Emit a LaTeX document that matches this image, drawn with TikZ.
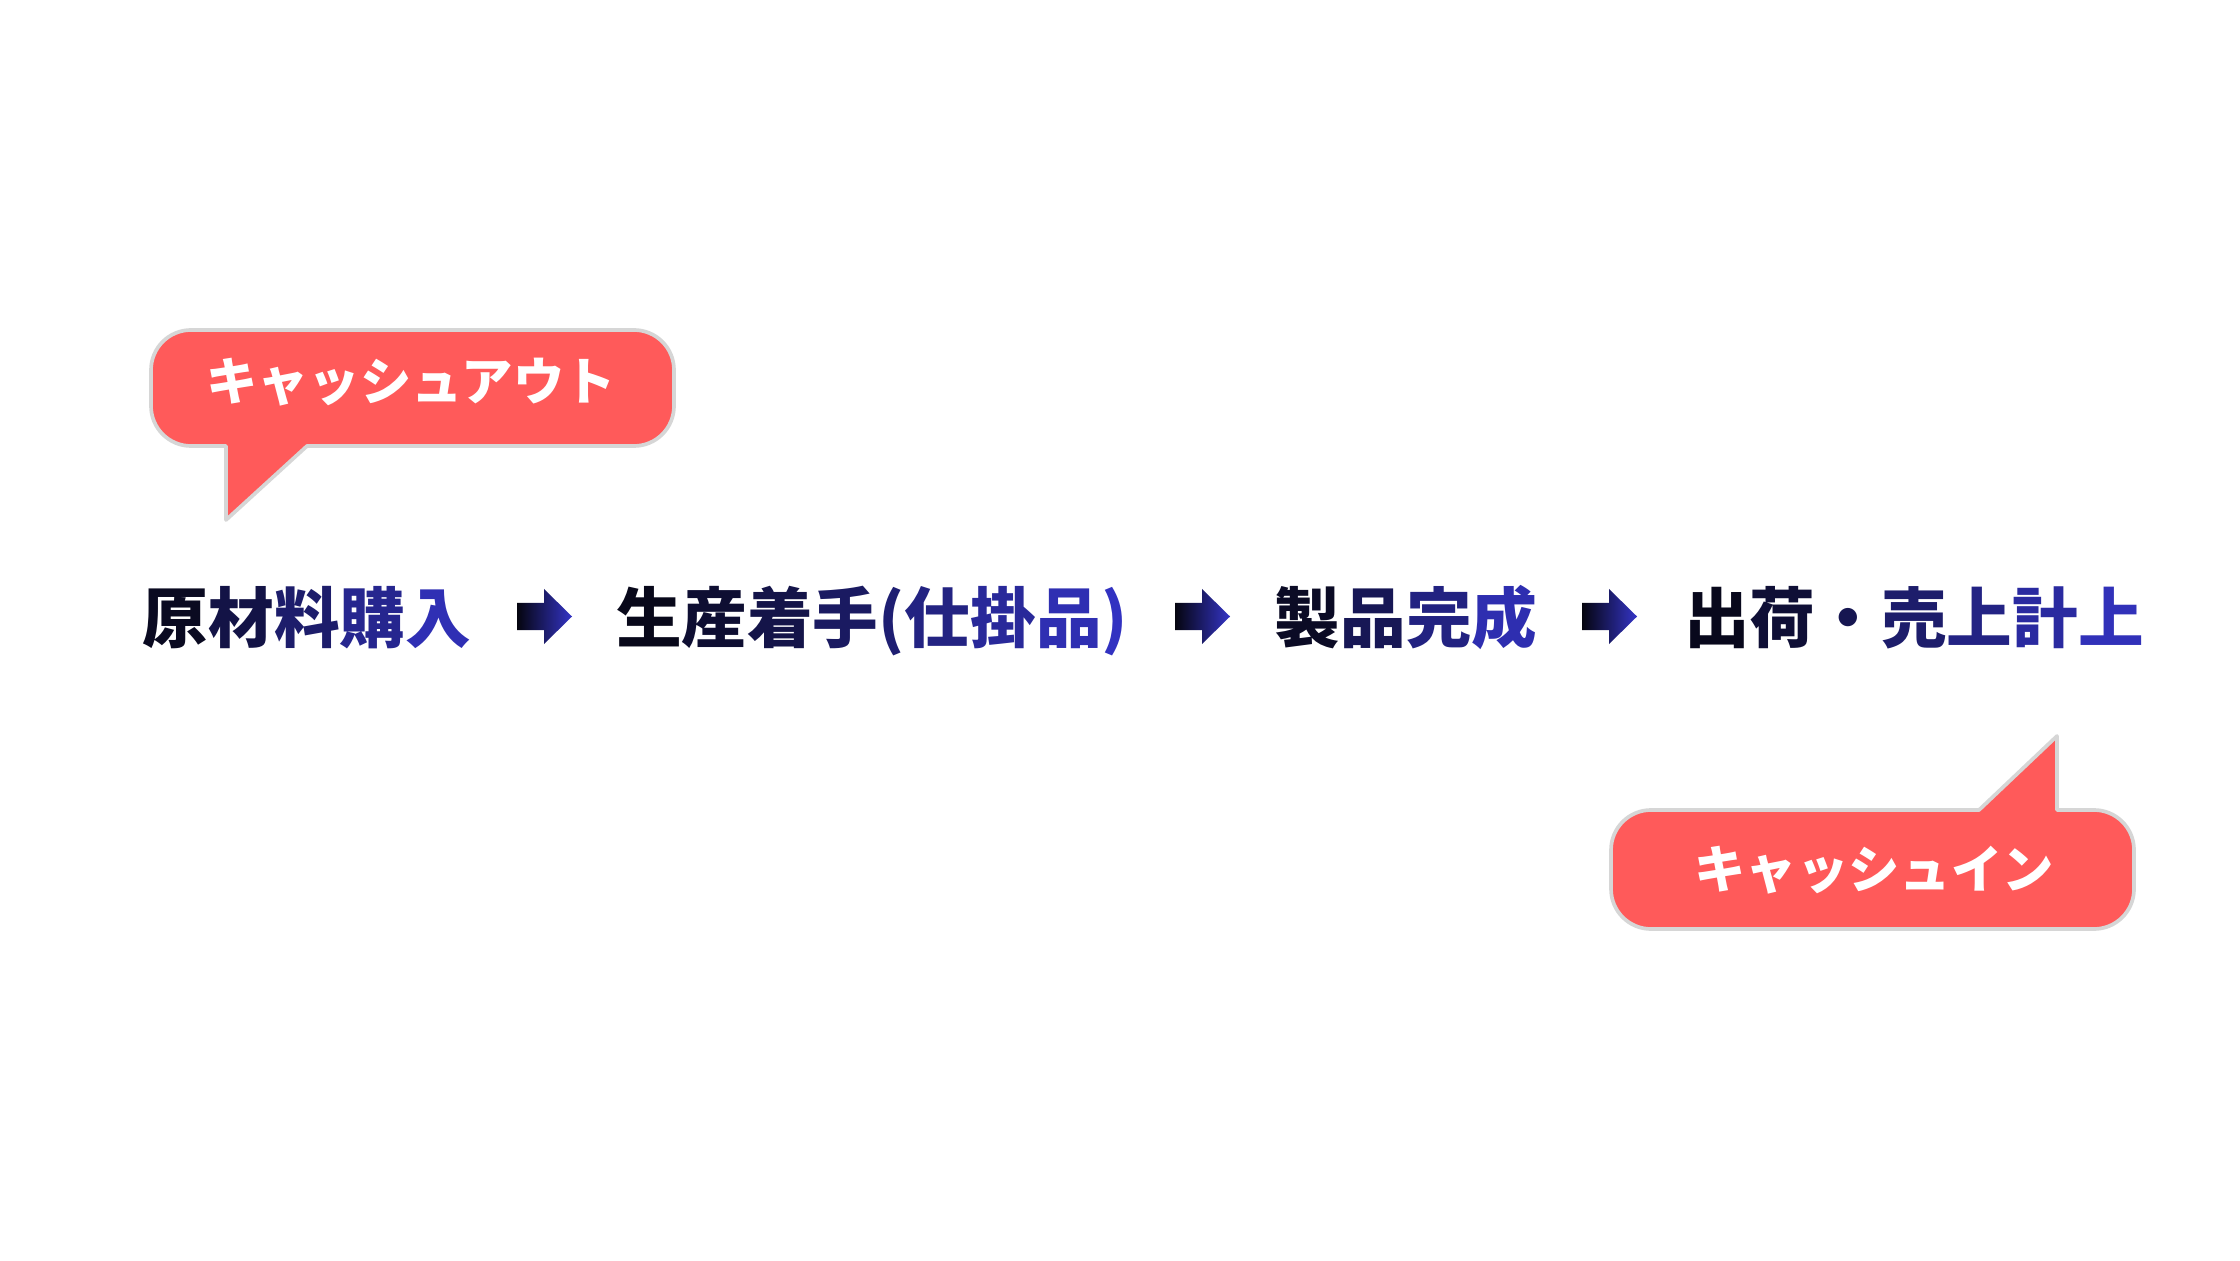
\documentclass[tikz,border=0pt]{standalone}
\usepackage{fontspec}
\newfontfamily\jpfont{Noto Sans CJK JP}
\definecolor{gblack}{HTML}{05050F}
\definecolor{gblue}{HTML}{3434C6}
\definecolor{calloutred}{HTML}{FF5A5A}
\definecolor{calloutedge}{HTML}{D6D6D6}
\newcommand\gc[2]{\textcolor{gblue!#1!gblack}{#2}}
\newcommand\flowarrow[1]{%
  \begin{scope}[shift={(#1,0)}]
    \shade[left color=gblack,right color=gblue]
      (0,630) -- (27,630) -- (27,616) -- (55,643.5) -- (27,671) -- (27,657) -- (0,657) -- cycle;
  \end{scope}}
\begin{document}
\begin{tikzpicture}[x=0.01cm,y=0.01cm,
  flowtext/.style={inner sep=0pt,anchor=base,font=\jpfont\bfseries\fontsize{18.66pt}{20pt}\selectfont},
  callouttext/.style={inner sep=0pt,anchor=base,text=white,font=\jpfont\bfseries\fontsize{14.6pt}{16pt}\selectfont},
  calloutshape/.style={fill=calloutred,draw=calloutedge,line width=1.05pt,line join=round}]
\fill[white] (0,0) rectangle (2240,1260);
\useasboundingbox (0,0) rectangle (2240,1260);

% callout: cash out
\draw[calloutshape] (226,814) -- (226,740) -- (307,814) -- (634,814)
  arc[start angle=-90,end angle=0,radius=40] -- (674,890)
  arc[start angle=0,end angle=90,radius=40] -- (191,930)
  arc[start angle=90,end angle=180,radius=40] -- (151,854)
  arc[start angle=180,end angle=270,radius=40] -- cycle;
\node[callouttext] (co) at (411,859) {キャッシュアウト};

% callout: cash in
\draw[calloutshape] (1979,450) -- (2057,524) -- (2057,450) -- (2094,450)
  arc[start angle=90,end angle=0,radius=40] -- (2134,371)
  arc[start angle=0,end angle=-90,radius=40] -- (1651,331)
  arc[start angle=270,end angle=180,radius=40] -- (1611,410)
  arc[start angle=180,end angle=90,radius=40] -- cycle;
\node[callouttext] (ci) at (1874,372) {キャッシュイン};

% flow text
\node[flowtext] (s1) at (307,617) {\gc{10}{原}\gc{30}{材}\gc{50}{料}\gc{70}{購}\gc{90}{入}};
\node[flowtext] (s2) at (872,617) {\gc{6}{生}\gc{19}{産}\gc{32}{着}\gc{45}{手}\gc{54}{(}\gc{63}{仕}\gc{76}{掛}\gc{89}{品}\gc{97}{)}};
\node[flowtext] (s3) at (1406,617) {\gc{12}{製}\gc{38}{品}\gc{62}{完}\gc{88}{成}};
\node[flowtext] (s4) at (1914,617) {\gc{7}{出}\gc{21}{荷}\gc{36}{・}\gc{50}{売}\gc{64}{上}\gc{79}{計}\gc{93}{上}};

% block arrows
\flowarrow{517}
\flowarrow{1175}
\flowarrow{1582}
\end{tikzpicture}
\end{document}
